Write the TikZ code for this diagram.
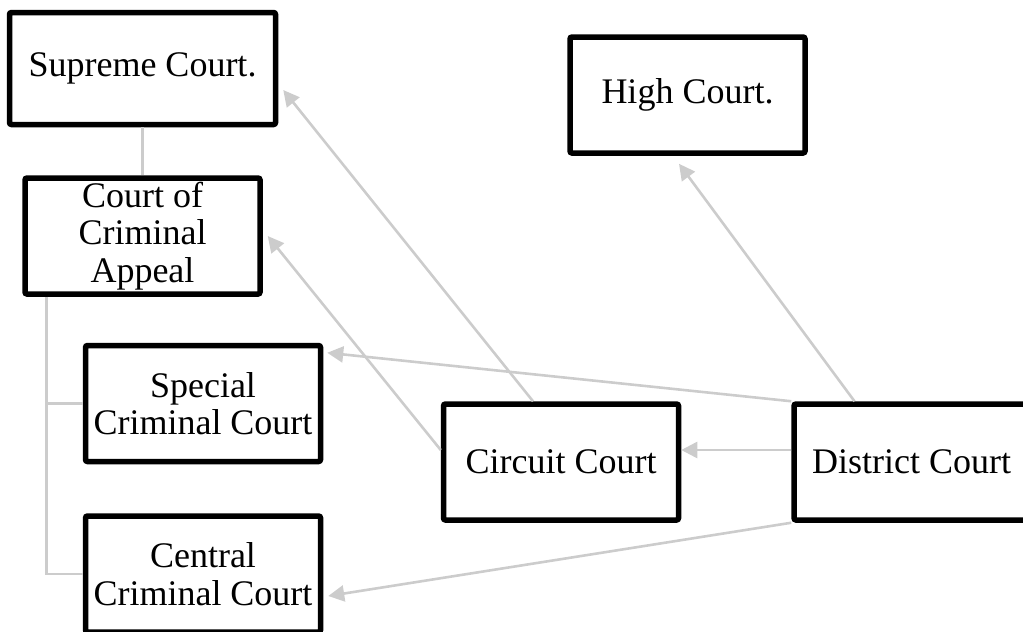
\documentclass[tikz,border=0pt]{standalone}
\usepackage{fontspec}
\setmainfont{Liberation Serif}
\usetikzlibrary{positioning,arrows.meta}
\definecolor{linkgray}{RGB}{204,204,204}

\begin{document}
\begin{tikzpicture}[x=0.5pt,y=-0.5pt,>={Triangle[length=8pt,width=8pt]},
  court node/.style={draw,line width=2.75pt,rounded corners=1pt,align=center,inner sep=2pt,
    minimum width=117.5pt,minimum height=58pt,font=\fontsize{18}{18.75}\selectfont},
  link/.style={draw=linkgray,line width=1.3pt}]
   \useasboundingbox (0,0) rectangle (1023,632);
   \node[court node,minimum width=133pt,minimum height=56pt] (sup) at (142.5,68.5) {Supreme Court.};
   \node[court node] (cca) [below=24pt of sup]  {Court of\\Criminal\\Appeal};
   \node[court node] (spc) at (203,403.5)       {Special\\Criminal Court};
   \node[court node] (cen) [below=24.5pt of spc] {Central\\Criminal Court};
   \node[court node] (cir) at (561,462)         {Circuit Court};
   \node[court node] (dis) [right=55pt of cir]  {District Court};
   \node[court node] (hig) at (687.5,95)        {High Court.};
   % criminal appeal tree
   \draw[link] (sup.south) -- (sup.south |- cca.north);
   \draw[link] ([xshift=12pt]cca.south west) |- (spc.west)
               ([xshift=12pt]cca.south west) |- (cen.west);
   % appeals
   \draw[link,->] ([xshift=-14pt]cir.north) -- ([xshift=2.5pt,yshift=-10.75pt]sup.east);
   \draw[link,->] ([yshift=6pt]cir.west)    -- ([xshift=2.5pt]cca.east);
   \draw[link,->] (dis.north west)          -- ([xshift=2pt,yshift=-5pt]spc.north east);
   \draw[link,->] ([xshift=-28.5pt]dis.north) -- ([xshift=-4.25pt,yshift=-4pt]hig.south);
   \draw[link,->] ([yshift=6pt]dis.west)    -- ([yshift=6pt]cir.east);
   \draw[link,->] (dis.south west)          -- ([xshift=2.5pt,yshift=-11pt]cen.east);
\end{tikzpicture}
\end{document}
